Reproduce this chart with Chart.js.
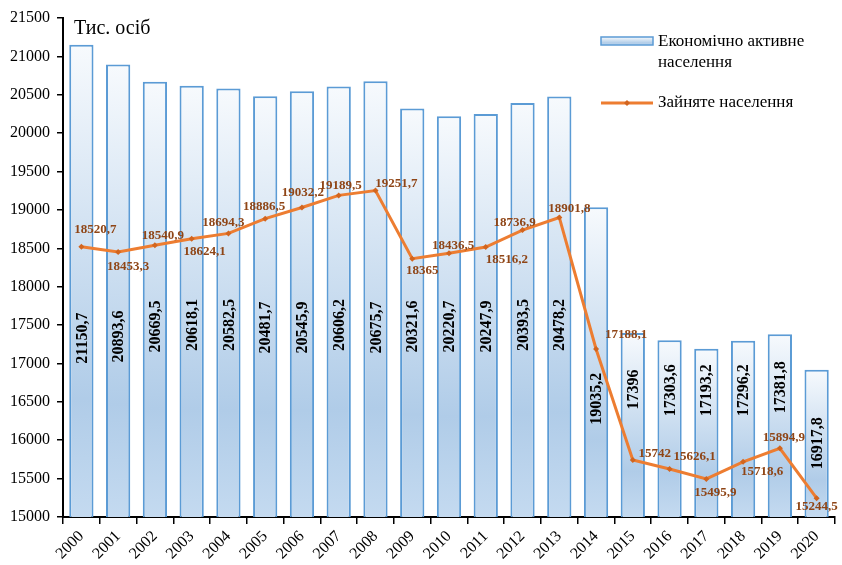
<!DOCTYPE html>
<html>
<head>
<meta charset="utf-8">
<script src="https://cdn.jsdelivr.net/npm/chart.js@4/dist/chart.umd.min.js"></script>
<style>
  html, body { margin: 0; padding: 0; background: #fff; }
  #wrap { width: 842px; height: 565px; }
</style>
</head>
<body>
<div id="wrap"><canvas id="chart" width="842" height="565"></canvas></div>
<script>
// Data (тис. осіб)
var years = ["2000","2001","2002","2003","2004","2005","2006","2007","2008","2009","2010",
             "2011","2012","2013","2014","2015","2016","2017","2018","2019","2020"];
var activePop = [21150.7, 20893.6, 20669.5, 20618.1, 20582.5, 20481.7, 20545.9, 20606.2, 20675.7, 20321.6, 20220.7,
                 20247.9, 20393.5, 20478.2, 19035.2, 17396, 17303.6, 17193.2, 17296.2, 17381.8, 16917.8];
var employedPop = [18520.7, 18453.3, 18540.9, 18624.1, 18694.3, 18886.5, 19032.2, 19189.5, 19251.7, 18365, 18436.5,
                   18516.2, 18736.9, 18901.8, 17188.1, 15742, 15626.1, 15495.9, 15718.6, 15894.9, 15244.5];
var yMin = 15000, yMax = 21500, yStep = 500;

// Label placement (style only)
var barLabelAt = [17330, 17350, 17480, 17500, 17500, 17470, 17470, 17500, 17470, 17480, 17480,
                  17480, 17500, 17500, 16540, 16660, 16650, 16650, 16650, 16690, 15960];
var lineLabelOff = [[14,-17],[10,15],[8,-10],[13,13],[-5,-11],[-1,-12],[1,-15],[2,-10],[21,-7],[10,12],[4,-8],
                    [21,13],[-8,-7],[10,-9],[30,-14],[22,-6],[25,-12],[9,14],[19,10],[4,-11],[0,8]];

var SERIF = '"Liberation Serif", "Times New Roman", serif';
var BAR_BORDER = "#5b9bd5";
var LINE_COLOR = "#ed7d31";
var LABEL_BROWN = "#8f4516";

function barGradient(ctx, top, bottom) {
  var g = ctx.createLinearGradient(0, top, 0, bottom);
  g.addColorStop(0, "#f7fafd");
  g.addColorStop(0.75, "#b0cce8");
  g.addColorStop(1, "#c4daf0");
  return g;
}

var labelsPlugin = {
  id: "labels",
  afterDatasetDraw: function(chart, args) {
    if (args.index !== 0) return;
    var c = chart.ctx, ys = chart.scales.y;
    var meta = chart.getDatasetMeta(0);
    c.save();
    c.font = "bold 16px " + SERIF;
    c.fillStyle = "#000";
    c.textAlign = "center";
    c.textBaseline = "middle";
    meta.data.forEach(function(bar, i) {
      var txt = String(activePop[i]).replace(".", ",");
      c.save();
      c.translate(bar.x, ys.getPixelForValue(barLabelAt[i]));
      c.rotate(-Math.PI / 2);
      c.fillText(txt, 0, 1);
      c.restore();
    });
    c.restore();
  },
  afterDatasetsDraw: function(chart) {
    var c = chart.ctx;
    var meta = chart.getDatasetMeta(1);
    c.save();
    c.font = "bold 13px " + SERIF;
    c.fillStyle = LABEL_BROWN;
    c.textAlign = "center";
    c.textBaseline = "middle";
    meta.data.forEach(function(pt, i) {
      var txt = String(employedPop[i]).replace(".", ",");
      c.fillText(txt, pt.x + lineLabelOff[i][0], pt.y + lineLabelOff[i][1]);
    });

    // unit title
    c.font = "20px " + SERIF;
    c.fillStyle = "#000";
    c.textAlign = "left";
    c.fillText("Тис. осіб", 74, 29);

    // legend
    c.fillStyle = barGradient(c, 37, 45);
    c.fillRect(601, 37, 52, 8);
    c.strokeStyle = BAR_BORDER;
    c.lineWidth = 1.5;
    c.strokeRect(601, 37, 52, 8);
    c.font = "17px " + SERIF;
    c.fillStyle = "#000";
    c.fillText("Економічно активне", 658, 42);
    c.fillText("населення", 658, 63);
    c.strokeStyle = LINE_COLOR;
    c.lineWidth = 3;
    c.beginPath();
    c.moveTo(601, 103);
    c.lineTo(653, 103);
    c.stroke();
    c.fillStyle = "#d2651f";
    c.beginPath();
    c.moveTo(627, 100); c.lineTo(630, 103); c.lineTo(627, 106); c.lineTo(624, 103);
    c.closePath();
    c.fill();
    c.fillStyle = "#000";
    c.fillText("Зайняте населення", 658, 103);
    c.restore();
  }
};

new Chart(document.getElementById("chart").getContext("2d"), {
  type: "bar",
  data: {
    labels: years,
    datasets: [
      {
        type: "bar",
        label: "Економічно активне населення",
        data: activePop,
        order: 1,
        backgroundColor: function(ctx) {
          var chart = ctx.chart;
          if (!chart.chartArea || ctx.raw == null) return "#dbe8f5";
          var top = chart.scales.y.getPixelForValue(ctx.raw);
          return barGradient(chart.ctx, top, chart.chartArea.bottom);
        },
        borderColor: BAR_BORDER,
        borderWidth: 2,
        borderSkipped: false,
        barPercentage: 0.66,
        categoryPercentage: 1
      },
      {
        type: "line",
        label: "Зайняте населення",
        data: employedPop,
        order: 0,
        borderColor: LINE_COLOR,
        borderWidth: 3,
        tension: 0,
        pointStyle: "rectRot",
        pointRadius: 3,
        pointBackgroundColor: "#d2651f",
        pointBorderColor: "#d2651f",
        pointBorderWidth: 0
      }
    ]
  },
  options: {
    responsive: false,
    animation: false,
    layout: { padding: { top: 18, right: 7, left: 0, bottom: 0 } },
    plugins: {
      legend: { display: false },
      tooltip: { enabled: false }
    },
    scales: {
      x: {
        offset: true,
        grid: { display: true, offset: true, drawOnChartArea: false, drawTicks: true, tickLength: 7, color: "#000", lineWidth: 1.5 },
        border: { display: true, color: "#000", width: 2 },
        ticks: { color: "#000", font: { family: SERIF, size: 16 }, maxRotation: 45, minRotation: 45, autoSkip: false, padding: 3 },
        afterFit: function(s) { s.height = 48; }
      },
      y: {
        min: yMin,
        max: yMax,
        grid: { display: true, drawOnChartArea: false, drawTicks: true, tickLength: 6, color: "#000", lineWidth: 1.5 },
        border: { display: true, color: "#000", width: 2 },
        ticks: {
          stepSize: yStep, color: "#000", font: { family: SERIF, size: 16 }, padding: 7,
          callback: function(v) { return String(v); }
        },
        afterFit: function(s) { s.width = 63; }
      }
    }
  },
  plugins: [labelsPlugin]
});
</script>
</body>
</html>
